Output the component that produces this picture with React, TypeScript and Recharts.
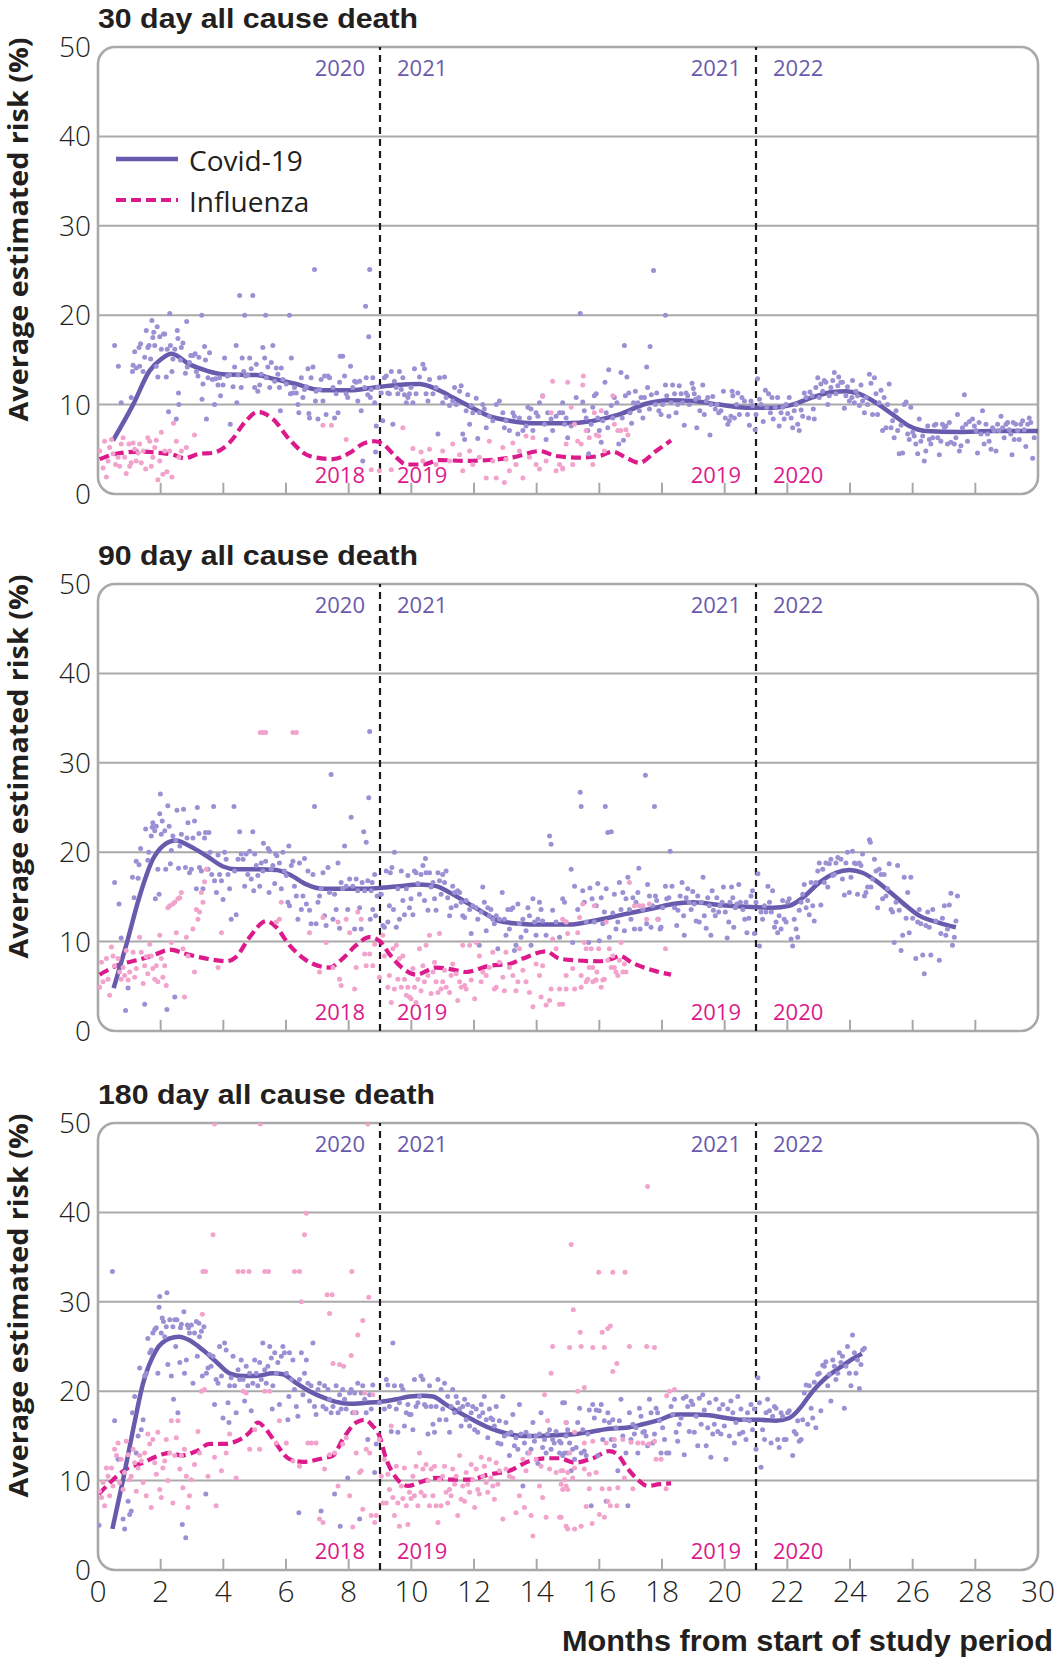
import React from 'react';
import { ComposedChart, Scatter, Line, XAxis, YAxis, ReferenceLine, ReferenceArea, Customized } from 'recharts';

type P = [number, number];

// ---------- axis / label data ----------
const X_TICKS = [0, 2, 4, 6, 8, 10, 12, 14, 16, 18, 20, 22, 24, 26, 28, 30];
const INNER_TICKS = [2, 4, 6, 8, 10, 12, 14, 16, 18, 20, 22, 24, 26, 28];
const Y_TICKS = [0, 10, 20, 30, 40, 50];
const GRID_Y = [10, 20, 30, 40];
const PANEL_TITLES = ['30 day all cause death', '90 day all cause death', '180 day all cause death'];
const BREAK_1 = 9;
const BREAK_2 = 21;
const COVID_YEARS_1 = ['2020', '2021'];
const COVID_YEARS_2 = ['2021', '2022'];
const FLU_YEARS_1 = ['2018', '2019'];
const FLU_YEARS_2 = ['2019', '2020'];
const LEGEND_NAMES = ['Covid-19', 'Influenza'];
const Y_TITLE = 'Average estimated risk (%)';
const X_TITLE = 'Months from start of study period';

// ---------- 30 day ----------
const covid30Line: P[] = [[0.48,6.0],[1.12,10.0],[1.65,13.8],[2.02,15.1],[2.34,15.7],[2.92,14.5],[3.46,13.8],[3.99,13.4],[5.05,13.3],[5.69,12.8],[6.33,12.3],[6.96,11.7],[7.39,11.6],[8.03,11.6],[8.77,11.9],[9.52,12.2],[10.26,12.3],[10.69,11.9],[11.22,11.0],[11.75,10.0],[12.49,8.7],[13.13,8.2],[13.98,7.9],[14.9,7.9],[15.79,8.17],[16.64,8.9],[17.49,10.1],[18.23,10.5],[18.98,10.4],[19.83,10.0],[20.68,9.66],[21.53,9.66],[22.17,10.0],[22.8,10.8],[23.45,11.4],[23.87,11.5],[24.3,11.2],[24.83,10.2],[25.36,8.9],[25.89,7.6],[26.42,7.05],[27.49,6.94],[28.55,7.05],[30.0,7.05]];
const flu30Line: P[] = [[0.05,3.9],[0.58,4.5],[1.33,4.74],[1.97,4.6],[2.39,4.4],[2.76,4.0],[3.24,4.5],[3.67,4.6],[4.2,5.75],[4.73,8.2],[5.10,9.2],[5.58,8.4],[6.11,6.1],[6.75,4.25],[7.5,3.9],[8.03,4.6],[8.45,5.6],[8.83,5.9],[9.09,5.6],[9.52,4.1],[9.83,3.3],[10.37,3.3],[10.9,3.8],[11.75,3.7],[12.49,3.8],[13.24,4.1],[14.1,4.8],[14.62,4.25],[15.37,4.07],[16.0,4.25],[16.43,4.74],[16.85,4.07],[17.28,3.5],[17.81,4.8],[18.29,6.0]];
const covid30Points: P[] = [[0.53,16.6],[0.65,14.3],[0.74,10.2],[1.06,10.8],[1.10,13.7],[1.12,14.4],[1.17,15.9],[1.22,14.1],[1.31,16.4],[1.36,16.8],[1.33,14.3],[1.44,13.7],[1.49,15.3],[1.54,18.3],[1.59,16.4],[1.63,16.6],[1.68,15.1],[1.72,19.4],[1.75,17.5],[1.78,18.1],[1.81,16.6],[1.86,14.3],[1.89,18.7],[1.91,13.1],[1.97,17.6],[2.02,16.2],[2.09,17.9],[2.13,17.9],[2.18,13.1],[2.21,16.2],[2.25,9.2],[2.29,20.2],[2.31,16.6],[2.36,13.7],[2.39,15.1],[2.45,16.2],[2.50,8.4],[2.53,18.3],[2.55,17.4],[2.57,11.3],[2.58,10.0],[2.63,15.0],[2.66,16.4],[2.71,16.9],[2.79,13.5],[2.83,19.3],[2.85,14.2],[2.92,14.7],[2.96,15.5],[3.03,15.5],[3.10,15.7],[3.14,13.7],[3.19,13.2],[3.22,15.3],[3.31,20.0],[3.32,10.6],[3.35,12.3],[3.40,16.5],[3.43,15.0],[3.46,8.4],[3.51,13.0],[3.56,15.8],[3.65,12.8],[3.72,10.0],[3.75,12.9],[3.83,12.2],[3.88,13.0],[3.91,11.0],[3.99,12.2],[4.04,15.2],[4.13,13.2],[4.20,13.3],[4.22,7.8],[4.31,12.0],[4.36,14.2],[4.41,16.6],[4.43,10.2],[4.47,13.3],[4.52,22.2],[4.57,11.9],[4.60,15.2],[4.65,13.7],[4.68,20.0],[4.71,13.2],[4.78,13.3],[4.84,15.2],[4.89,14.0],[4.94,22.2],[5.00,11.9],[5.05,14.5],[5.10,11.5],[5.16,12.2],[5.21,13.4],[5.26,16.4],[5.32,15.2],[5.35,20.0],[5.37,13.0],[5.42,14.2],[5.48,11.9],[5.53,14.7],[5.58,16.6],[5.64,12.6],[5.69,14.1],[5.74,13.4],[5.79,11.9],[5.82,9.3],[5.85,14.1],[5.90,12.8],[6.01,12.3],[6.11,20.0],[6.14,11.2],[6.17,15.2],[6.22,11.3],[6.27,11.9],[6.33,11.3],[6.38,10.0],[6.41,9.1],[6.49,13.0],[6.54,10.8],[6.59,11.7],[6.65,12.0],[6.70,14.0],[6.73,9.0],[6.75,8.5],[6.80,13.0],[6.86,14.2],[6.91,25.1],[6.94,10.4],[6.96,11.5],[7.02,8.4],[7.07,11.7],[7.12,12.8],[7.18,10.4],[7.23,13.2],[7.28,8.9],[7.34,13.2],[7.39,13.0],[7.50,11.9],[7.55,8.5],[7.60,11.2],[7.66,9.1],[7.71,12.5],[7.73,15.4],[7.81,15.4],[7.87,13.2],[7.92,11.2],[7.97,10.8],[8.06,14.3],[8.13,11.9],[8.19,12.6],[8.24,12.5],[8.29,10.4],[8.35,12.6],[8.40,9.3],[8.45,3.7],[8.51,11.9],[8.54,21.0],[8.56,13.0],[8.61,11.1],[8.64,17.6],[8.67,25.1],[8.69,10.8],[8.72,11.7],[8.77,13.0],[8.83,10.2],[8.86,4.7],[8.88,7.6],[8.93,11.9],[9.04,11.3],[9.09,8.2],[9.14,13.0],[9.20,13.2],[9.25,11.3],[9.30,11.2],[9.36,13.7],[9.41,7.8],[9.46,12.6],[9.52,11.9],[9.57,11.2],[9.62,13.7],[9.68,11.7],[9.73,13.0],[9.78,11.1],[9.84,10.2],[9.89,10.8],[9.94,11.2],[9.99,11.9],[10.05,10.2],[10.10,14.0],[10.15,11.2],[10.26,13.1],[10.37,14.5],[10.42,14.0],[10.47,11.2],[10.53,10.4],[10.58,12.8],[10.69,11.2],[10.79,11.9],[10.85,6.7],[10.90,13.0],[11.00,10.2],[11.06,13.1],[11.11,10.8],[11.22,9.9],[11.32,10.4],[11.38,11.9],[11.43,10.0],[11.54,11.5],[11.59,12.1],[11.64,6.7],[11.70,6.1],[11.75,9.3],[11.80,11.1],[11.86,7.8],[11.91,9.9],[11.96,9.1],[12.07,10.7],[12.12,6.2],[12.17,9.1],[12.28,10.0],[12.33,9.5],[12.39,7.4],[12.49,8.7],[12.60,8.2],[12.71,10.0],[12.81,10.4],[12.92,9.1],[12.97,7.4],[13.02,8.2],[13.13,7.1],[13.24,9.1],[13.29,8.7],[13.40,6.7],[13.45,8.5],[13.56,7.1],[13.66,7.6],[13.72,9.7],[13.77,8.5],[13.82,9.5],[13.88,7.1],[13.98,9.1],[14.04,8.7],[14.09,10.2],[14.19,11.0],[14.25,7.8],[14.30,6.1],[14.35,9.1],[14.46,8.4],[14.51,7.1],[14.62,8.7],[14.73,9.1],[14.83,10.2],[14.89,7.8],[14.99,6.3],
[14.83,9.1],[14.94,8.5],[15.10,7.6],[15.26,10.8],[15.39,20.2],[15.47,10.3],[15.52,9.3],[15.58,8.5],[15.63,7.1],[15.66,4.5],[15.74,7.8],[15.79,9.7],[15.84,11.0],[15.90,11.2],[15.95,8.5],[16.00,7.1],[16.06,5.8],[16.11,8.2],[16.18,12.5],[16.22,9.1],[16.27,7.4],[16.30,13.9],[16.38,9.9],[16.43,8.5],[16.48,10.8],[16.56,10.2],[16.62,5.6],[16.69,13.6],[16.73,8.5],[16.77,6.0],[16.80,16.6],[16.83,11.0],[16.88,13.1],[16.94,11.3],[16.98,9.1],[17.03,7.9],[17.09,10.2],[17.15,11.5],[17.23,10.2],[17.28,9.3],[17.33,10.8],[17.39,8.5],[17.44,10.8],[17.51,14.2],[17.54,11.9],[17.60,9.5],[17.62,16.5],[17.66,11.1],[17.73,25.0],[17.79,10.0],[17.83,11.3],[17.90,9.3],[17.97,8.9],[18.02,10.0],[18.11,12.2],[18.11,20.0],[18.15,11.0],[18.22,8.7],[18.29,10.2],[18.34,12.2],[18.40,11.2],[18.45,9.1],[18.50,10.0],[18.55,12.1],[18.61,11.2],[18.66,10.2],[18.71,7.7],[18.77,11.3],[18.82,11.0],[18.87,10.0],[18.96,12.4],[19.00,11.8],[19.03,11.2],[19.07,10.6],[19.11,7.4],[19.17,10.8],[19.21,9.3],[19.30,12.2],[19.35,8.9],[19.41,10.4],[19.46,10.8],[19.53,6.6],[19.56,10.0],[19.62,10.9],[19.70,9.5],[19.75,10.0],[19.81,9.1],[19.88,9.3],[19.96,11.5],[20.02,8.5],[20.10,7.8],[20.15,8.2],[20.20,8.7],[20.24,11.5],[20.26,11.0],[20.31,8.5],[20.38,10.0],[20.42,11.3],[20.47,8.9],[20.55,10.8],[20.63,10.4],[20.73,8.9],[20.79,7.7],[20.84,10.4],[20.89,9.9],[20.97,7.2],[21.00,8.9],[21.05,12.9],[21.11,10.6],[21.16,10.0],[21.23,8.1],[21.30,11.6],[21.34,9.7],[21.40,11.2],[21.46,9.1],[21.51,10.8],[21.55,8.4],[21.62,9.7],[21.69,10.8],[21.74,7.6],[21.80,9.1],[21.85,9.7],[21.90,8.4],[21.96,10.0],[22.01,9.0],[22.06,10.8],[22.12,8.5],[22.17,7.4],[22.22,9.3],[22.28,10.0],[22.33,7.8],[22.38,7.1],[22.44,9.4],[22.49,8.7],[22.54,11.3],[22.60,10.8],[22.68,8.5],[22.72,11.4],[22.79,11.0],[22.83,9.5],[22.86,8.4],[22.91,11.9],[22.97,13.0],[23.02,10.8],[23.07,12.3],[23.13,11.5],[23.18,12.7],[23.23,12.5],[23.29,10.0],[23.34,11.0],[23.39,11.9],[23.45,12.7],[23.50,13.6],[23.55,11.2],[23.61,12.1],[23.64,13.1],[23.71,12.5],[23.76,12.5],[23.82,9.6],[23.87,11.0],[23.92,12.0],[23.98,10.4],[24.06,10.8],[24.08,12.7],[24.14,10.2],[24.19,11.5],[24.24,11.0],[24.30,9.9],[24.35,12.2],[24.40,10.4],[24.46,9.1],[24.51,10.8],[24.56,10.0],[24.62,13.4],[24.67,12.4],[24.72,8.9],[24.78,13.0],[24.83,11.2],[24.88,8.9],[24.93,10.2],[24.99,11.6],[25.04,7.1],[25.09,10.8],[25.15,7.4],[25.20,10.0],[25.25,12.3],[25.31,7.4],[25.36,8.2],[25.41,6.3],[25.47,9.3],[25.52,7.1],[25.57,4.5],[25.63,7.7],[25.68,4.6],[25.73,10.0],[25.79,10.3],[25.84,6.7],[25.89,6.1],[25.94,9.7],[26.00,6.9],[26.05,6.5],[26.10,5.6],[26.16,4.5],[26.21,8.4],[26.26,5.9],[26.32,6.5],[26.37,3.7],[26.42,4.8],[26.48,7.6],[26.53,6.1],[26.58,5.6],[26.64,6.3],[26.69,7.7],[26.74,7.8],[26.80,6.3],[26.85,4.4],[26.90,5.9],[26.95,7.8],[27.01,7.4],[27.06,7.6],[27.11,5.6],[27.17,8.0],[27.22,5.8],[27.33,5.6],[27.38,6.3],[27.43,8.9],[27.49,4.8],[27.54,5.4],[27.59,7.4],[27.65,11.1],[27.70,7.8],[27.75,5.9],[27.81,8.1],[27.91,8.4],[27.97,7.6],[28.02,7.1],[28.07,4.6],[28.12,8.0],[28.18,6.7],[28.23,9.3],[28.28,5.6],[28.34,7.8],[28.39,6.7],[28.44,5.9],[28.50,5.0],[28.55,7.4],[28.60,7.1],[28.66,4.8],[28.71,7.8],[28.76,7.1],[28.82,8.7],[28.87,7.4],[28.92,6.3],[28.98,7.8],[29.03,8.0],[29.08,7.2],[29.13,6.7],[29.17,4.4],[29.21,8.0],[29.24,6.1],[29.29,7.8],[29.35,7.1],[29.40,6.1],[29.45,7.8],[29.51,8.2],[29.56,7.2],[29.61,5.3],[29.67,7.8],[29.72,8.5],[29.77,8.0],[29.83,4.0],[29.88,6.3]];
const flu30Points: P[] = [[0.05,4.8],[0.16,2.9],[0.21,5.9],[0.27,1.9],[0.32,3.7],[0.37,5.2],[0.43,6.1],[0.48,4.5],[0.56,3.3],[0.64,4.1],[0.69,3.1],[0.74,5.6],[0.80,6.3],[0.85,4.1],[0.90,2.3],[0.99,5.6],[1.01,3.1],[1.06,3.5],[1.12,5.7],[1.17,5.0],[1.22,3.7],[1.28,4.6],[1.33,5.6],[1.38,3.5],[1.44,4.8],[1.52,2.8],[1.59,6.3],[1.65,5.9],[1.70,3.1],[1.75,4.1],[1.81,5.2],[1.86,6.0],[1.91,1.6],[1.97,3.7],[2.02,6.9],[2.07,2.2],[2.13,4.8],[2.20,2.5],[2.29,4.8],[2.36,1.9],[2.41,7.9],[2.50,5.9],[2.58,4.1],[2.66,4.8],[2.82,5.2],[3.08,6.6],[7.18,7.7],[7.45,7.7],[7.92,6.1],[8.72,2.7],[8.98,2.6],[9.36,2.7],[9.73,7.4],[10.05,5.1],[10.31,4.7],[10.37,3.7],[10.58,5.0],[10.79,3.3],[11.00,4.8],[11.22,3.7],[11.32,5.6],[11.54,4.4],[11.64,2.6],[11.86,4.8],[11.96,3.3],[12.17,4.1],[12.39,1.8],[12.49,5.9],[12.60,3.7],[12.71,1.8],[12.92,5.2],[12.97,1.3],[13.02,3.9],[13.13,2.6],[13.24,5.7],[13.34,3.3],[13.45,4.8],[13.56,1.8],[13.66,6.5],[13.77,4.1],[13.88,6.3],[13.98,3.3],[14.09,2.8],[14.19,10.9],[14.30,3.7],[14.46,9.1],[14.51,12.6],[14.62,2.6],[14.73,3.3],[14.83,2.9],[14.94,5.6],[14.83,2.8],[14.99,12.5],[15.10,9.7],[15.15,3.3],[15.21,7.8],[15.31,5.9],[15.42,5.6],[15.47,12.2],[15.49,13.2],[15.58,7.1],[15.68,6.3],[15.79,3.3],[15.84,9.1],[15.90,6.6],[15.98,6.5],[16.06,9.3],[16.16,4.8],[16.43,11.0],[16.48,7.8],[16.59,7.1],[16.69,7.1],[16.85,7.2],[16.91,6.6]];

// ---------- 90 day ----------
const covid90Line: P[] = [[0.50,4.8],[0.90,9.6],[1.33,15.1],[1.75,19.2],[2.07,20.7],[2.48,21.3],[2.92,20.7],[3.46,19.6],[3.99,18.4],[4.41,18.1],[5.05,18.1],[5.69,18.0],[6.11,17.5],[6.65,16.4],[7.18,15.9],[7.81,15.9],[8.45,15.9],[8.98,16.0],[9.62,16.2],[10.26,16.4],[10.79,16.2],[11.22,15.5],[11.75,14.4],[12.28,13.3],[12.81,12.3],[13.45,12.0],[14.09,11.9],[15.04,11.9],[15.79,12.3],[16.85,13.1],[17.70,13.7],[18.34,14.2],[18.98,14.4],[19.83,14.1],[20.68,13.9],[21.53,13.8],[22.06,14.0],[22.49,14.9],[23.02,16.6],[23.55,17.7],[23.98,18.0],[24.40,17.7],[24.83,16.8],[25.36,15.3],[25.79,14.0],[26.21,12.9],[26.85,12.1],[27.38,11.6]];
const flu90Line: P[] = [[0.05,6.3],[0.59,7.3],[1.33,8.0],[1.86,8.6],[2.29,9.1],[2.82,8.6],[3.46,8.1],[4.09,7.8],[4.41,8.3],[4.84,10.5],[5.37,12.3],[5.69,11.6],[6.11,9.6],[6.65,7.9],[7.39,7.1],[7.81,8.1],[8.24,9.6],[8.67,10.5],[8.98,10.1],[9.30,8.6],[9.73,7.0],[10.15,6.3],[10.79,7.1],[11.43,6.8],[11.75,6.6],[12.49,7.3],[13.13,7.5],[13.56,8.1],[14.30,8.9],[14.73,8.1],[15.26,7.9],[16.0,7.8],[16.43,8.1],[16.64,8.4],[17.07,7.6],[17.70,6.8],[18.29,6.3]];
const covid90Points: P[] = [[0.53,16.6],[0.67,14.2],[0.74,10.4],[0.88,2.3],[0.96,4.8],[1.10,17.2],[1.15,14.9],[1.22,19.0],[1.28,17.1],[1.31,18.6],[1.36,20.4],[1.49,3.0],[1.52,22.6],[1.59,19.1],[1.62,20.0],[1.70,21.8],[1.73,22.8],[1.75,23.3],[1.81,22.4],[1.83,14.8],[1.86,22.9],[1.91,18.1],[1.95,15.3],[1.97,24.3],[1.99,26.5],[2.02,22.0],[2.05,23.5],[2.13,22.4],[2.16,18.1],[2.20,2.4],[2.23,25.2],[2.27,22.9],[2.31,18.7],[2.34,20.2],[2.39,21.8],[2.45,3.8],[2.48,21.3],[2.52,24.7],[2.57,18.2],[2.61,20.7],[2.66,22.0],[2.73,24.8],[2.79,18.3],[2.84,21.6],[2.87,23.3],[2.92,17.7],[2.98,18.1],[3.03,21.6],[3.08,23.5],[3.14,15.9],[3.17,25.0],[3.22,22.1],[3.24,18.3],[3.30,17.9],[3.35,15.9],[3.40,21.6],[3.43,22.2],[3.51,18.1],[3.54,22.2],[3.58,20.0],[3.63,17.5],[3.69,25.1],[3.72,16.8],[3.78,15.5],[3.83,19.7],[3.88,17.5],[3.94,16.8],[3.99,14.7],[4.04,20.0],[4.09,19.2],[4.15,17.5],[4.20,15.9],[4.25,12.5],[4.34,25.1],[4.36,17.9],[4.41,13.0],[4.47,19.2],[4.52,22.3],[4.57,19.8],[4.63,19.2],[4.68,16.2],[4.73,19.8],[4.78,17.5],[4.84,20.1],[4.89,17.0],[4.94,22.3],[4.97,15.7],[5.00,19.8],[5.05,18.5],[5.10,17.4],[5.16,16.2],[5.21,18.8],[5.26,17.9],[5.28,21.0],[5.35,19.0],[5.43,20.4],[5.46,15.5],[5.48,20.1],[5.53,18.1],[5.58,18.5],[5.64,16.5],[5.67,19.8],[5.71,19.6],[5.79,18.8],[5.85,15.9],[5.90,20.0],[5.95,17.9],[6.01,17.4],[6.06,14.4],[6.09,20.7],[6.11,14.0],[6.17,18.5],[6.22,19.0],[6.27,16.2],[6.33,15.1],[6.38,12.5],[6.43,18.8],[6.49,13.6],[6.54,15.1],[6.59,19.3],[6.65,14.2],[6.70,17.9],[6.75,13.5],[6.80,12.0],[6.86,17.5],[6.91,25.1],[6.96,12.0],[7.02,14.4],[7.07,15.1],[7.12,15.9],[7.18,17.7],[7.23,12.9],[7.28,11.8],[7.34,18.3],[7.39,15.5],[7.44,28.7],[7.50,12.5],[7.55,15.3],[7.60,13.6],[7.66,18.8],[7.71,11.5],[7.76,16.6],[7.81,15.9],[7.87,20.7],[7.92,16.2],[7.97,13.6],[8.03,17.0],[8.08,23.9],[8.13,16.2],[8.19,11.4],[8.24,17.0],[8.29,15.7],[8.35,13.8],[8.40,11.4],[8.43,16.6],[8.48,22.3],[8.51,15.7],[8.56,21.1],[8.61,16.8],[8.64,26.1],[8.67,33.5],[8.69,12.5],[8.72,15.7],[8.75,16.6],[8.77,13.6],[8.83,17.5],[8.86,12.9],[8.91,15.1],[9.04,15.3],[9.09,11.8],[9.14,11.6],[9.20,17.9],[9.25,12.2],[9.30,14.0],[9.33,17.7],[9.38,18.3],[9.43,13.6],[9.46,20.0],[9.52,11.6],[9.57,15.9],[9.62,12.5],[9.68,17.9],[9.73,14.6],[9.78,13.0],[9.84,15.9],[9.89,17.4],[9.94,13.8],[9.99,14.8],[10.05,13.0],[10.10,17.9],[10.15,17.7],[10.21,16.5],[10.26,15.3],[10.31,17.5],[10.37,18.5],[10.42,14.6],[10.45,19.3],[10.47,17.7],[10.53,13.5],[10.58,17.7],[10.63,16.1],[10.69,16.6],[10.74,14.8],[10.79,13.5],[10.85,17.7],[10.90,16.8],[10.95,15.3],[11.00,17.5],[11.06,16.6],[11.11,17.9],[11.16,14.9],[11.22,12.9],[11.27,13.8],[11.32,16.2],[11.38,15.5],[11.43,14.0],[11.48,15.7],[11.54,15.5],[11.59,14.4],[11.64,12.9],[11.70,12.7],[11.75,14.6],[11.86,13.6],[11.91,10.9],[11.96,14.0],[12.07,13.8],[12.12,12.5],[12.17,9.6],[12.23,13.3],[12.28,16.1],[12.33,14.4],[12.39,11.2],[12.44,13.8],[12.49,12.9],[12.54,13.6],[12.60,12.5],[12.65,12.0],[12.71,12.9],[12.76,9.2],[12.81,12.5],[12.90,15.5],[12.97,12.5],[13.02,10.7],[13.08,13.6],[13.13,11.4],[13.18,13.6],[13.24,13.8],[13.29,9.0],[13.34,9.6],[13.40,14.2],[13.45,12.0],[13.50,10.5],[13.56,12.5],[13.66,11.2],[13.72,13.8],[13.77,12.9],[13.82,9.6],[13.88,14.8],[13.93,12.2],[13.98,10.7],[14.04,12.5],[14.09,14.4],[14.14,13.6],[14.19,12.3],[14.30,10.7],[14.41,21.8],[14.46,20.9],[14.51,13.5],[14.62,12.2],[14.73,10.5],[14.83,14.8],[14.89,14.4],[14.94,12.2],
[15.10,18.1],[15.15,9.9],[15.21,16.2],[15.31,13.6],[15.39,26.7],[15.42,25.1],[15.47,15.7],[15.52,14.4],[15.58,12.2],[15.66,9.9],[15.70,16.0],[15.77,14.8],[15.84,12.2],[15.90,14.0],[15.95,16.5],[16.00,10.1],[16.06,14.9],[16.11,12.0],[16.16,13.3],[16.19,25.1],[16.22,15.9],[16.27,22.2],[16.32,10.5],[16.38,22.3],[16.43,13.2],[16.48,15.3],[16.53,11.4],[16.59,12.2],[16.64,16.6],[16.69,13.6],[16.75,15.5],[16.80,11.2],[16.85,14.8],[16.91,17.2],[16.96,13.6],[17.01,12.5],[17.07,14.9],[17.12,11.4],[17.17,14.4],[17.23,15.5],[17.26,18.2],[17.30,11.4],[17.39,13.6],[17.47,28.6],[17.51,12.0],[17.54,16.4],[17.60,15.1],[17.65,11.6],[17.70,14.0],[17.76,25.1],[17.79,15.1],[17.83,14.6],[17.88,12.5],[17.94,11.4],[17.97,11.6],[18.02,13.8],[18.11,16.2],[18.15,14.8],[18.22,14.9],[18.26,20.1],[18.32,16.2],[18.40,13.8],[18.47,11.8],[18.51,13.5],[18.58,15.1],[18.64,16.6],[18.69,12.9],[18.71,10.7],[18.77,14.9],[18.82,15.9],[18.87,14.4],[18.93,13.6],[18.98,15.6],[19.03,14.2],[19.09,12.3],[19.14,15.1],[19.19,12.2],[19.25,14.4],[19.31,17.2],[19.35,12.9],[19.41,11.5],[19.46,14.9],[19.51,14.0],[19.56,10.7],[19.60,15.7],[19.64,13.5],[19.70,12.9],[19.75,14.9],[19.81,13.3],[19.85,14.0],[19.92,14.4],[19.96,16.1],[20.02,13.3],[20.08,10.4],[20.13,12.2],[20.17,14.4],[20.22,16.1],[20.26,14.9],[20.29,11.6],[20.34,13.8],[20.39,14.2],[20.45,16.4],[20.50,14.4],[20.58,13.6],[20.64,12.5],[20.68,14.4],[20.71,11.0],[20.77,12.6],[20.84,15.1],[20.89,15.7],[20.95,10.9],[21.00,14.4],[21.06,17.6],[21.11,9.5],[21.16,13.3],[21.21,12.5],[21.27,14.0],[21.32,13.3],[21.38,16.2],[21.43,14.4],[21.49,13.3],[21.53,15.7],[21.59,11.6],[21.64,12.2],[21.69,11.0],[21.74,12.9],[21.80,11.4],[21.85,14.6],[21.90,12.5],[21.96,12.2],[22.01,14.4],[22.06,14.8],[22.12,10.3],[22.17,9.5],[22.22,12.5],[22.28,11.4],[22.33,10.5],[22.38,13.5],[22.44,14.4],[22.49,15.3],[22.54,16.4],[22.60,13.8],[22.65,14.6],[22.70,13.0],[22.76,16.6],[22.81,14.0],[22.86,12.3],[22.91,16.6],[22.97,17.9],[23.02,18.8],[23.07,14.1],[23.13,18.1],[23.18,16.6],[23.23,18.8],[23.29,16.1],[23.34,18.7],[23.39,19.2],[23.45,17.4],[23.50,17.5],[23.55,18.8],[23.61,19.4],[23.71,19.2],[23.76,17.0],[23.82,15.2],[23.87,18.8],[23.92,20.0],[23.98,15.5],[24.03,17.2],[24.08,20.1],[24.14,18.8],[24.19,18.7],[24.24,15.3],[24.30,18.8],[24.35,18.5],[24.40,19.8],[24.46,15.1],[24.51,15.5],[24.56,16.1],[24.62,21.4],[24.65,21.1],[24.67,16.1],[24.72,17.0],[24.78,19.2],[24.83,17.9],[24.88,13.8],[24.93,18.1],[24.99,17.5],[25.04,14.8],[25.09,17.5],[25.15,15.1],[25.20,15.9],[25.25,18.7],[25.31,13.6],[25.36,13.3],[25.41,9.9],[25.47,14.4],[25.52,18.5],[25.57,13.5],[25.63,9.0],[25.68,10.7],[25.73,17.2],[25.79,12.6],[25.84,15.5],[25.89,11.0],[25.94,17.2],[26.00,12.6],[26.10,8.1],[26.16,12.2],[26.21,13.6],[26.26,12.0],[26.32,8.5],[26.37,6.4],[26.42,11.8],[26.48,13.3],[26.53,11.6],[26.58,8.5],[26.64,13.6],[26.74,12.3],[26.85,7.9],[26.90,10.9],[26.95,12.6],[27.01,14.0],[27.06,10.7],[27.11,11.4],[27.17,14.1],[27.22,15.4],[27.27,9.6],[27.33,10.5],[27.38,12.3],[27.43,15.1]];
const flu90Points: P[] = [[0.05,4.9],[0.11,7.7],[0.16,5.5],[0.27,8.1],[0.32,5.8],[0.37,4.0],[0.43,9.4],[0.48,8.4],[0.53,7.3],[0.64,8.1],[0.69,6.6],[0.74,5.8],[0.80,7.1],[0.85,6.2],[0.90,9.0],[0.96,5.7],[1.01,6.6],[1.12,8.8],[1.17,6.0],[1.22,7.0],[1.33,10.5],[1.38,8.8],[1.44,5.3],[1.49,7.3],[1.54,8.3],[1.59,6.4],[1.65,9.7],[1.70,8.4],[1.75,7.0],[1.81,5.8],[1.86,7.3],[1.91,5.5],[1.97,10.7],[2.02,8.1],[2.07,6.0],[2.13,7.3],[2.18,5.1],[2.23,13.8],[2.29,14.0],[2.34,9.9],[2.39,14.2],[2.45,14.4],[2.50,11.0],[2.55,14.8],[2.61,14.9],[2.66,15.5],[2.71,9.2],[2.76,3.8],[2.82,10.5],[2.87,8.4],[3.03,11.4],[3.08,6.6],[3.14,13.6],[3.19,12.5],[3.24,13.3],[3.30,15.5],[3.35,14.4],[3.40,16.7],[3.46,18.1],[3.83,7.1],[3.94,11.0],[5.18,33.4],[5.26,33.4],[5.35,33.4],[6.22,33.4],[6.33,33.4],[5.69,12.2],[5.79,12.5],[5.85,14.4],[6.75,11.0],[7.07,6.6],[7.18,12.7],[7.28,9.9],[7.50,7.1],[7.66,12.2],[7.71,5.8],[7.76,5.1],[7.92,12.5],[8.03,11.0],[8.19,4.7],[8.24,7.1],[8.29,13.3],[8.40,12.5],[8.51,8.6],[8.56,7.3],[8.67,8.6],[8.77,7.3],[8.83,9.7],[8.98,6.0],[9.09,10.7],[9.14,8.4],[9.25,4.9],[9.30,6.2],[9.36,3.2],[9.41,9.2],[9.46,4.7],[9.52,9.6],[9.57,5.8],[9.62,8.1],[9.68,4.9],[9.73,8.4],[9.78,5.8],[9.84,4.0],[9.89,4.9],[9.94,3.8],[9.99,3.6],[10.05,7.0],[10.10,4.9],[10.15,3.2],[10.21,5.8],[10.26,9.2],[10.31,4.5],[10.37,7.3],[10.42,5.5],[10.47,9.6],[10.53,6.2],[10.58,10.7],[10.63,4.2],[10.69,6.6],[10.74,7.7],[10.79,5.5],[10.85,4.3],[10.90,10.9],[10.95,4.7],[11.00,5.5],[11.06,6.8],[11.11,4.9],[11.22,4.3],[11.27,6.2],[11.32,7.5],[11.43,6.4],[11.48,3.4],[11.54,5.5],[11.59,4.9],[11.64,9.6],[11.70,5.1],[11.75,4.7],[11.86,9.6],[11.91,5.7],[12.02,3.6],[12.07,9.9],[12.17,8.4],[12.23,5.5],[12.28,6.6],[12.39,6.2],[12.49,7.1],[12.60,8.8],[12.65,4.7],[12.71,4.9],[12.81,7.7],[12.92,6.0],[12.97,4.5],[13.02,8.8],[13.13,7.1],[13.24,6.2],[13.34,4.5],[13.40,5.5],[13.45,9.2],[13.56,6.8],[13.66,5.5],[13.77,4.3],[13.88,2.7],[13.98,7.5],[14.09,6.2],[14.14,3.8],[14.19,7.3],[14.30,2.9],[14.41,3.4],[14.46,4.7],[14.51,10.3],[14.62,9.2],[14.73,4.7],[14.83,3.0],[14.94,6.2],[14.99,10.9],
[14.83,12.5],[14.94,12.2],[15.15,7.0],[15.31,11.0],[15.37,12.7],[15.42,6.2],[15.47,14.2],[15.52,9.9],[15.58,9.2],[15.63,5.8],[15.68,7.1],[15.74,9.2],[15.79,7.1],[15.84,14.0],[15.88,5.7],[15.92,6.6],[15.98,9.2],[16.06,4.9],[16.11,5.7],[16.16,5.8],[16.22,12.2],[16.27,7.9],[16.32,9.2],[16.38,7.1],[16.43,8.4],[16.48,7.1],[16.53,6.6],[16.59,6.2],[16.64,7.9],[16.69,9.9],[16.75,6.6],[16.80,7.5],[16.85,6.6],[16.96,16.6],[17.12,14.0],[17.28,14.0],[17.39,14.0],[17.51,12.5],[17.60,14.2],[17.86,12.5],[18.11,9.2],[14.73,3.0],[14.94,4.7],[15.21,4.7],[15.42,4.9],[15.58,5.5],[15.79,5.5],[15.90,5.7]];

// ---------- 180 day ----------
const covid180Line: P[] = [[0.46,4.6],[0.80,10.1],[1.12,15.7],[1.44,20.9],[1.86,24.6],[2.29,25.9],[2.58,26.1],[2.92,25.7],[3.35,24.6],[3.77,23.3],[4.20,22.0],[4.63,21.7],[5.05,21.7],[5.58,22.0],[5.90,21.9],[6.33,20.9],[6.75,20.0],[7.18,19.3],[7.60,18.8],[8.03,18.6],[8.56,18.7],[8.98,18.8],[9.52,19.1],[9.94,19.4],[10.37,19.5],[10.69,19.4],[11.11,18.5],[11.54,17.6],[11.96,16.8],[12.49,15.9],[13.02,15.3],[13.56,15.0],[14.09,15.0],[14.73,15.1],[15.26,15.2],[15.79,15.5],[16.32,15.8],[16.85,15.9],[17.39,16.3],[17.92,16.8],[18.45,17.4],[18.98,17.4],[19.51,17.3],[20.04,17.0],[20.58,16.8],[21.11,16.8],[21.64,16.7],[22.06,17.0],[22.38,18.0],[22.81,20.0],[23.23,21.5],[23.66,22.6],[24.08,23.6],[24.38,24.2]];
const flu180Line: P[] = [[0.03,8.5],[0.48,10.1],[0.90,11.3],[1.44,12.0],[1.86,12.7],[2.29,13.1],[2.66,12.8],[3.14,13.3],[3.56,14.1],[3.99,14.1],[4.41,14.4],[4.84,15.4],[5.10,16.5],[5.37,15.7],[5.69,14.1],[6.11,12.4],[6.54,12.1],[7.18,12.5],[7.50,12.8],[7.81,14.6],[8.24,16.5],[8.51,16.8],[8.77,16.1],[8.98,15.0],[9.20,12.4],[9.52,10.3],[9.89,9.4],[10.26,9.8],[10.79,10.3],[11.32,10.1],[11.86,10.1],[12.49,10.7],[13.13,11.1],[13.77,12.2],[14.30,12.5],[14.73,12.5],[15.21,12.0],[15.79,12.5],[16.32,13.3],[16.59,12.9],[16.85,11.6],[17.23,10.1],[17.54,9.4],[17.92,9.6],[18.29,9.7]];
const covid180Points: P[] = [[0.03,5.0],[0.46,33.4],[0.53,16.7],[0.64,12.4],[0.80,5.7],[0.85,4.6],[0.96,7.7],[1.01,6.2],[1.06,6.6],[1.10,17.6],[1.17,19.4],[1.22,13.1],[1.28,15.0],[1.33,22.6],[1.38,15.7],[1.44,16.8],[1.49,21.7],[1.54,22.0],[1.59,25.9],[1.65,24.3],[1.70,24.6],[1.75,26.5],[1.81,26.9],[1.86,27.1],[1.91,22.0],[1.95,29.4],[1.97,30.6],[2.02,26.5],[2.05,28.2],[2.09,27.8],[2.13,26.1],[2.18,27.2],[2.20,31.0],[2.23,23.0],[2.29,28.0],[2.34,21.7],[2.39,27.2],[2.41,19.1],[2.45,28.0],[2.48,25.0],[2.52,28.0],[2.55,17.6],[2.61,23.2],[2.63,27.1],[2.66,27.5],[2.69,5.1],[2.74,28.9],[2.76,22.0],[2.80,3.6],[2.82,23.5],[2.85,27.4],[2.89,27.1],[2.92,26.5],[2.98,27.4],[3.03,20.9],[3.08,26.5],[3.14,27.8],[3.17,23.9],[3.22,27.6],[3.24,26.1],[3.30,26.7],[3.33,21.7],[3.38,27.2],[3.44,8.5],[3.46,22.0],[3.51,22.6],[3.56,24.1],[3.61,22.8],[3.67,23.9],[3.72,18.5],[3.77,21.3],[3.83,20.9],[3.88,25.0],[3.94,21.7],[3.99,17.0],[4.04,25.4],[4.09,24.6],[4.15,18.7],[4.18,16.5],[4.20,20.6],[4.25,21.5],[4.31,23.9],[4.36,20.6],[4.41,17.6],[4.47,22.4],[4.52,21.3],[4.57,23.5],[4.63,21.3],[4.68,18.9],[4.73,22.8],[4.78,20.6],[4.84,22.0],[4.89,17.8],[4.94,20.9],[5.00,23.5],[5.05,22.0],[5.10,20.6],[5.16,23.2],[5.21,21.3],[5.26,25.4],[5.32,22.4],[5.37,20.9],[5.42,22.8],[5.48,25.0],[5.53,23.7],[5.56,18.0],[5.58,20.6],[5.64,24.3],[5.69,22.0],[5.74,23.2],[5.79,18.5],[5.85,23.9],[5.90,25.0],[5.95,24.3],[6.01,22.0],[6.06,16.8],[6.09,19.4],[6.11,24.3],[6.17,21.3],[6.22,23.5],[6.27,20.2],[6.33,18.3],[6.38,17.2],[6.41,6.4],[6.43,21.3],[6.49,24.3],[6.54,19.6],[6.59,22.0],[6.65,23.5],[6.70,20.9],[6.75,18.9],[6.80,20.6],[6.86,25.4],[6.91,18.3],[6.96,17.4],[7.02,20.2],[7.07,20.9],[7.12,6.6],[7.18,18.3],[7.23,20.6],[7.28,18.0],[7.34,20.2],[7.39,19.1],[7.44,17.6],[7.50,18.3],[7.55,8.5],[7.60,20.6],[7.66,17.6],[7.71,19.6],[7.73,4.9],[7.76,18.0],[7.81,20.2],[7.87,19.1],[7.92,18.0],[7.97,10.3],[8.03,19.8],[8.08,20.2],[8.13,17.6],[8.19,19.8],[8.24,17.6],[8.29,20.9],[8.35,5.7],[8.40,19.8],[8.45,20.6],[8.51,19.1],[8.56,17.6],[8.61,14.6],[8.67,19.6],[8.72,18.0],[8.77,20.7],[8.83,10.9],[8.88,14.1],[8.98,18.7],[9.14,18.0],[9.20,21.3],[9.25,20.7],[9.30,18.3],[9.36,15.5],[9.41,25.4],[9.46,20.6],[9.52,18.0],[9.57,15.4],[9.62,18.7],[9.68,20.6],[9.73,20.2],[9.78,16.1],[9.84,17.6],[9.89,18.5],[9.94,17.4],[9.99,17.4],[10.05,15.7],[10.10,21.3],[10.15,18.3],[10.21,18.7],[10.26,19.4],[10.31,21.7],[10.37,21.3],[10.42,18.5],[10.47,18.3],[10.53,15.2],[10.58,20.6],[10.63,18.3],[10.69,16.3],[10.74,15.4],[10.79,18.3],[10.85,21.3],[10.90,16.8],[10.95,20.2],[11.00,18.0],[11.06,20.9],[11.11,16.8],[11.16,19.4],[11.22,15.4],[11.27,18.3],[11.32,20.2],[11.38,17.6],[11.43,19.4],[11.48,18.7],[11.54,18.0],[11.59,16.1],[11.64,18.3],[11.70,19.1],[11.75,16.8],[11.80,18.5],[11.86,16.1],[11.91,17.6],[11.96,18.3],[12.02,15.7],[12.07,18.0],[12.12,15.4],[12.17,17.2],[12.23,18.5],[12.28,17.6],[12.33,19.4],[12.39,16.8],[12.44,14.8],[12.49,18.0],[12.54,17.0],[12.60,16.8],[12.65,16.1],[12.71,18.3],[12.76,14.2],[12.81,16.7],[12.86,14.1],[12.92,19.4],[12.97,15.0],[13.02,16.5],[13.08,15.2],[13.13,12.8],[13.18,15.4],[13.24,17.4],[13.29,13.9],[13.34,14.8],[13.40,13.5],[13.45,18.5],[13.50,15.2],[13.56,9.4],[13.61,14.2],[13.66,15.4],[13.72,13.1],[13.77,15.0],[13.82,13.5],[13.88,16.5],[13.93,14.4],[13.98,15.0],[14.04,11.9],[14.09,15.2],[14.14,17.6],[14.19,13.7],[14.25,14.6],[14.30,13.1],[14.35,15.2],[14.41,15.7],[14.46,13.5],[14.51,14.6],[14.56,14.2],[14.62,15.5],[14.73,13.1],[14.78,14.2],[14.83,12.8],[14.89,18.7],[14.94,15.0],[14.99,13.1],
[14.73,14.4],[14.83,18.7],[14.89,13.1],[14.94,16.5],[14.99,15.7],[15.05,14.2],[15.10,11.1],[15.15,13.5],[15.21,12.4],[15.26,13.7],[15.31,16.5],[15.37,18.1],[15.42,13.1],[15.47,15.7],[15.52,13.3],[15.58,12.8],[15.63,15.2],[15.68,17.9],[15.74,7.2],[15.79,18.5],[15.84,17.0],[15.90,17.9],[15.95,12.8],[16.00,17.8],[16.06,18.5],[16.11,14.6],[16.16,16.7],[16.22,7.7],[16.27,17.6],[16.32,16.5],[16.38,14.6],[16.43,16.8],[16.48,13.9],[16.53,15.9],[16.59,11.1],[16.64,16.7],[16.69,19.1],[16.75,15.0],[16.85,13.1],[16.91,7.2],[16.96,17.6],[17.01,14.6],[17.07,16.3],[17.12,15.2],[17.17,15.9],[17.23,13.1],[17.28,18.1],[17.33,17.2],[17.39,15.4],[17.44,15.5],[17.49,15.0],[17.54,13.9],[17.60,19.1],[17.65,17.6],[17.70,14.2],[17.76,15.2],[17.81,18.1],[17.86,17.6],[17.92,16.7],[17.97,13.1],[18.02,15.9],[18.08,14.6],[18.15,13.1],[18.22,13.1],[18.29,18.3],[18.34,17.4],[18.40,19.1],[18.45,15.4],[18.50,14.4],[18.55,16.3],[18.61,17.0],[18.68,19.2],[18.71,12.9],[18.77,19.4],[18.82,18.3],[18.87,15.5],[18.93,18.9],[18.98,18.5],[19.03,15.4],[19.09,17.2],[19.14,13.9],[19.19,19.2],[19.25,16.3],[19.30,19.6],[19.35,17.9],[19.41,13.9],[19.46,15.9],[19.51,18.7],[19.56,12.6],[19.62,15.2],[19.67,16.3],[19.72,19.1],[19.78,15.5],[19.83,18.0],[19.88,15.2],[19.94,18.5],[19.99,16.1],[20.04,12.4],[20.10,18.0],[20.15,15.0],[20.20,18.9],[20.26,17.6],[20.31,14.2],[20.36,16.5],[20.42,19.4],[20.47,15.2],[20.52,18.0],[20.58,15.4],[20.63,16.8],[20.68,14.6],[20.73,17.6],[20.79,16.7],[20.84,18.5],[20.89,15.7],[20.95,18.0],[21.00,13.5],[21.06,21.5],[21.11,18.7],[21.16,11.5],[21.21,15.7],[21.27,14.6],[21.32,17.6],[21.37,19.1],[21.43,17.8],[21.48,14.2],[21.53,17.2],[21.59,18.3],[21.64,18.1],[21.69,14.6],[21.74,13.7],[21.80,17.6],[21.85,17.2],[21.90,14.6],[21.96,14.6],[22.01,17.6],[22.06,17.8],[22.17,12.8],[22.22,15.5],[22.28,15.2],[22.33,16.7],[22.38,14.4],[22.44,14.6],[22.49,16.8],[22.54,19.8],[22.60,20.7],[22.65,16.3],[22.70,20.6],[22.76,18.1],[22.81,17.0],[22.86,21.0],[22.91,15.9],[22.97,21.9],[23.02,22.0],[23.07,17.8],[23.13,22.9],[23.18,22.8],[23.23,23.3],[23.29,20.6],[23.34,21.9],[23.39,18.9],[23.45,23.5],[23.50,22.8],[23.55,21.3],[23.61,22.0],[23.66,24.3],[23.71,23.2],[23.76,23.9],[23.82,18.1],[23.87,22.8],[23.92,25.0],[23.98,22.0],[24.03,20.6],[24.08,26.3],[24.14,24.3],[24.19,22.0],[24.24,23.5],[24.30,20.3],[24.35,23.0],[24.40,24.6],[24.46,24.8]];
const flu180Points: P[] = [[3.72,49.9],[5.18,49.9],[8.61,49.9],[6.65,39.9],[3.67,37.5],[6.59,37.5],[3.35,33.4],[3.43,33.4],[4.47,33.4],[4.63,33.4],[4.82,33.4],[5.32,33.4],[5.44,33.4],[6.27,33.4],[6.43,33.4],[8.10,33.4],[7.31,30.8],[7.47,30.8],[8.64,30.5],[6.49,30.0],[3.33,28.6],[7.39,28.7],[8.45,27.9],[8.29,26.3],[8.08,24.0],[7.50,23.1],[7.71,23.0],[7.84,22.8],
[0.05,8.8],[0.11,8.1],[0.16,9.8],[0.21,7.2],[0.27,11.4],[0.32,10.5],[0.37,8.3],[0.43,11.4],[0.48,9.4],[0.53,13.5],[0.59,12.8],[0.64,14.2],[0.69,9.8],[0.74,12.4],[0.80,9.0],[0.85,10.9],[0.90,14.4],[0.96,12.9],[1.01,10.1],[1.06,10.5],[1.12,13.5],[1.17,12.0],[1.22,8.8],[1.28,11.4],[1.33,12.8],[1.38,12.2],[1.44,9.8],[1.49,13.1],[1.54,8.3],[1.59,15.2],[1.65,14.1],[1.70,7.0],[1.75,14.6],[1.81,12.0],[1.86,10.7],[1.91,15.4],[1.97,9.0],[2.02,8.1],[2.07,11.4],[2.13,12.2],[2.18,14.6],[2.23,10.0],[2.29,13.1],[2.34,16.7],[2.39,7.5],[2.45,12.8],[2.50,14.8],[2.55,16.7],[2.61,11.3],[2.66,12.8],[2.71,9.2],[2.76,13.5],[2.82,10.5],[2.87,7.0],[2.92,8.3],[2.98,10.1],[3.08,11.8],[3.19,15.5],[3.24,13.1],[3.30,20.0],[3.40,20.2],[3.51,10.5],[3.72,12.6],[3.77,7.2],[3.94,11.1],[4.09,13.1],[4.20,15.2],[4.41,10.3],[4.63,20.0],[4.73,19.8],[4.84,13.5],[5.00,15.7],[5.16,13.5],[5.32,20.0],[5.48,20.0],[5.69,14.2],[5.79,16.7],[6.01,14.2],[6.22,12.2],[6.43,11.6],[6.70,14.2],[6.81,14.2],[6.96,14.2],[7.07,5.7],[7.18,5.3],[7.23,11.3],[7.39,12.9],[7.55,13.1],[7.66,9.4],[7.81,14.1],[7.92,14.8],[8.03,8.3],[8.13,4.8],[8.19,17.6],[8.24,13.1],[8.35,10.9],[8.40,11.1],[8.45,6.8],[8.51,19.8],[8.56,13.5],[8.67,13.1],[8.72,6.1],[8.77,19.6],[8.83,5.3],[8.88,6.1],[8.98,14.6],[9.04,10.5],[9.09,7.5],[9.14,12.4],[9.20,7.5],[9.25,10.7],[9.30,9.0],[9.36,16.1],[9.41,8.1],[9.46,6.1],[9.52,11.6],[9.57,7.5],[9.62,4.9],[9.68,9.4],[9.73,8.0],[9.78,11.4],[9.84,7.2],[9.89,5.1],[9.94,8.7],[9.99,8.0],[10.05,10.5],[10.10,8.3],[10.15,11.6],[10.21,7.2],[10.26,13.1],[10.31,8.7],[10.37,11.3],[10.42,8.3],[10.47,11.8],[10.53,10.0],[10.58,7.2],[10.63,11.3],[10.69,8.3],[10.74,11.6],[10.79,7.2],[10.85,5.3],[10.90,10.1],[10.95,7.2],[11.00,10.5],[11.06,11.6],[11.11,8.7],[11.16,7.5],[11.22,9.0],[11.27,8.3],[11.32,11.3],[11.38,9.6],[11.43,10.5],[11.48,6.1],[11.54,12.8],[11.59,7.9],[11.64,9.4],[11.70,7.7],[11.75,10.9],[11.80,9.6],[11.86,8.7],[11.91,11.8],[11.96,10.1],[12.02,7.0],[12.07,11.3],[12.12,9.0],[12.17,8.5],[12.23,12.6],[12.28,10.5],[12.33,11.6],[12.39,9.8],[12.44,8.7],[12.49,12.4],[12.54,10.3],[12.60,9.4],[12.65,7.9],[12.71,12.0],[12.76,9.6],[12.81,11.1],[12.92,5.7],[13.02,11.3],[13.13,10.5],[13.24,10.3],[13.34,6.4],[13.45,8.3],[13.56,12.4],[13.61,7.0],[13.66,11.1],[13.77,13.1],[13.82,6.1],[13.88,3.8],[13.98,12.4],[14.09,9.4],[14.14,11.6],[14.19,8.1],[14.25,19.6],[14.30,5.9],[14.35,16.7],[14.41,11.3],[14.46,22.0],[14.51,25.0],[14.62,10.9],[14.73,5.9],[14.78,9.6],[14.83,11.1],[14.94,4.9],[14.99,9.0],
[17.54,42.9],[15.10,36.4],[15.98,33.3],[16.43,33.3],[16.82,33.3],[15.17,29.1],[15.39,26.6],[16.09,26.6],[16.27,27.0],[16.35,27.3],[15.05,24.9],[15.42,25.0],[15.79,24.9],[16.16,24.9],[16.96,25.0],[17.51,25.0],[17.76,24.9],[16.56,23.1],[16.43,22.2],[15.31,20.0],[15.52,20.4],[18.15,19.5],[18.40,20.2],[18.24,20.0],[14.94,16.5],[15.05,13.1],[15.21,15.4],[15.52,14.2],[15.79,14.4],[16.22,14.2],[16.48,14.6],[16.75,14.6],[17.01,14.3],[17.23,14.2],[17.39,14.2],[17.58,14.1],[17.76,14.4],[17.81,12.4],[17.97,12.4],[18.13,9.1],[17.07,9.1],[14.78,11.1],[14.83,9.0],[14.94,9.4],[14.99,10.9],[15.15,10.3],[15.21,11.4],[15.52,11.3],[15.68,10.7],[15.68,9.1],[16.09,9.1],[16.32,9.1],[16.59,9.2],[14.78,5.9],[14.99,4.6],[15.21,4.6],[15.42,4.9],[15.77,5.2],[16.00,6.2],[16.16,5.9],[15.58,7.1],[16.27,7.7],[16.35,7.2],[16.56,7.2],[15.90,10.9],[14.89,10.1],[16.80,10.3]];

// ---------- styling ----------
const COVID = '#6a5aad';
const COVID_DOT = '#9b90d3';
const FLU = '#dc1a8c';
const FLU_DOT = '#f2a3cc';
const TEXT = '#231f20';
const FRAME = '#a9a9a9';
const FONT = '"Open Sans", "Noto Sans", sans-serif';
const TITLE_FONT = '"Liberation Sans", Arial, sans-serif';
const NARROW = '"Liberation Sans Narrow", "Liberation Sans", sans-serif';

const toXY = (pts: P[]) => pts.map(([x, y]) => ({ x, y }));

const dotShape = (color: string) => (props: any) => (
  <circle cx={props.cx} cy={props.cy} r={2.5} fill={color} />
);

const yearLabels = (left: string[], right: string[]) => (props: any) => {
  const vb = props.viewBox || {};
  const x = vb.x ?? 0;
  const top = vb.y ?? 0;
  const bottom = top + (vb.height ?? 0);
  const st = { fontSize: 22, fontFamily: FONT } as const;
  return (
    <g>
      <text x={x - 15} y={top + 20} textAnchor="end" dominantBaseline="central" fill={COVID} style={st}>{left[0]}</text>
      <text x={x + 17} y={top + 20} textAnchor="start" dominantBaseline="central" fill={COVID} style={st}>{left[1]}</text>
      <text x={x - 15} y={bottom - 20} textAnchor="end" dominantBaseline="central" fill={FLU} style={st}>{right[0]}</text>
      <text x={x + 17} y={bottom - 20} textAnchor="start" dominantBaseline="central" fill={FLU} style={st}>{right[1]}</text>
    </g>
  );
};

const PLOT_TOP = 47;
const PLOT_H = 447;

type PanelProps = {
  title: string;
  covidPts: P[];
  fluPts: P[];
  covidLine: P[];
  fluLine: P[];
  top: number;
  legend?: boolean;
  xAxis?: boolean;
};

function Panel({ title, covidPts, fluPts, covidLine, fluLine, top, legend, xAxis }: PanelProps) {
  const height = xAxis ? 587 : 537;
  const xAxisH = 40;
  const bottom = height - PLOT_TOP - PLOT_H - (xAxis ? xAxisH : 0);
  const yMid = PLOT_TOP + PLOT_H / 2 - 41;
  return (
    <div style={{ position: 'absolute', left: 0, top }}>
      <ComposedChart width={1055} height={height} margin={{ top: PLOT_TOP, right: 17, bottom, left: 0 }}>
        <XAxis
          type="number"
          dataKey="x"
          domain={[0, 30]}
          ticks={X_TICKS}
          interval={0}
          hide={!xAxis}
          height={xAxisH}
          axisLine={false}
          tickLine={false}
          tickSize={6}
          tickMargin={5}
          tick={{ fontSize: 30, fill: TEXT, fontFamily: FONT, fontWeight: 300 }}
          allowDataOverflow
        />
        <YAxis
          type="number"
          dataKey="y"
          domain={[0, 50]}
          ticks={Y_TICKS}
          interval={0}
          width={98}
          axisLine={false}
          tickLine={false}
          tickSize={6}
          tickMargin={1}
          tick={{ fontSize: 28, fill: TEXT, fontFamily: FONT, fontWeight: 300 }}
          allowDataOverflow
        />
        {GRID_Y.map((g) => (
          <ReferenceLine key={'g' + g} y={g} stroke={FRAME} strokeWidth={2} />
        ))}
        {INNER_TICKS.map((t) => (
          <ReferenceLine key={'t' + t} segment={[{ x: t, y: 0 }, { x: t, y: 1.25 }]} stroke={FRAME} strokeWidth={2} />
        ))}
        <ReferenceArea
          x1={0}
          x2={30}
          y1={0}
          y2={50}
          shape={(p: any) => (
            <rect x={p.x} y={p.y} width={p.width} height={p.height} rx={17} ry={17} fill="none" stroke={FRAME} strokeWidth={2.6} />
          )}
        />
        <Scatter data={toXY(covidPts)} dataKey="y" shape={dotShape(COVID_DOT)} isAnimationActive={false} />
        <Scatter data={toXY(fluPts)} dataKey="y" shape={dotShape(FLU_DOT)} isAnimationActive={false} />
        <ReferenceLine x={BREAK_1} stroke="#1a1a1a" strokeWidth={2.2} strokeDasharray="7 5" label={yearLabels(COVID_YEARS_1, FLU_YEARS_1)} />
        <ReferenceLine x={BREAK_2} stroke="#1a1a1a" strokeWidth={2.2} strokeDasharray="7 5" label={yearLabels(COVID_YEARS_2, FLU_YEARS_2)} />
        <Line data={toXY(fluLine)} dataKey="y" type="monotone" stroke={FLU} strokeWidth={4.2} strokeDasharray="10 5" dot={false} activeDot={false} isAnimationActive={false} />
        <Line data={toXY(covidLine)} dataKey="y" type="monotone" stroke={COVID} strokeWidth={4.5} dot={false} activeDot={false} isAnimationActive={false} />
        <Customized
          component={() => (
            <g>
              <text x={98} y={28} fill={TEXT} style={{ fontSize: 27, fontWeight: 700, fontFamily: TITLE_FONT }} textLength={title.length > 22 ? 337 : 320} lengthAdjust="spacingAndGlyphs">
                {title}
              </text>
              <text
                x={18}
                y={yMid}
                transform={`rotate(-90, 18, ${yMid})`}
                textAnchor="middle"
                dominantBaseline="central"
                fill={TEXT}
                style={{ fontSize: 26, fontWeight: 700, fontFamily: FONT }}
                textLength={384}
                lengthAdjust="spacingAndGlyphs"
              >
                {Y_TITLE}
              </text>
              {legend && (
                <g>
                  <line x1={116} x2={178} y1={159} y2={159} stroke={COVID} strokeWidth={4.5} />
                  <text x={189} y={160} dominantBaseline="central" fill={TEXT} style={{ fontSize: 28, fontFamily: FONT }}>{LEGEND_NAMES[0]}</text>
                  <line x1={116} x2={178} y1={200} y2={200} stroke={FLU} strokeWidth={4.2} strokeDasharray="10 5" />
                  <text x={189} y={201} dominantBaseline="central" fill={TEXT} style={{ fontSize: 28, fontFamily: FONT }}>{LEGEND_NAMES[1]}</text>
                </g>
              )}
              {xAxis && (
                <text x={1053} y={575} textAnchor="end" fill={TEXT} style={{ fontSize: 30, fontWeight: 700, fontFamily: NARROW }} textLength={491} lengthAdjust="spacingAndGlyphs">
                  {X_TITLE}
                </text>
              )}
            </g>
          )}
        />
      </ComposedChart>
    </div>
  );
}

export default function App() {
  return (
    <div style={{ position: 'absolute', left: 0, top: 0, width: 1055, height: 1663, background: '#fff' }}>
      <Panel title={PANEL_TITLES[0]} covidPts={covid30Points} fluPts={flu30Points} covidLine={covid30Line} fluLine={flu30Line} top={0} legend />
      <Panel title={PANEL_TITLES[1]} covidPts={covid90Points} fluPts={flu90Points} covidLine={covid90Line} fluLine={flu90Line} top={537} />
      <Panel title={PANEL_TITLES[2]} covidPts={covid180Points} fluPts={flu180Points} covidLine={covid180Line} fluLine={flu180Line} top={1076} xAxis />
    </div>
  );
}
